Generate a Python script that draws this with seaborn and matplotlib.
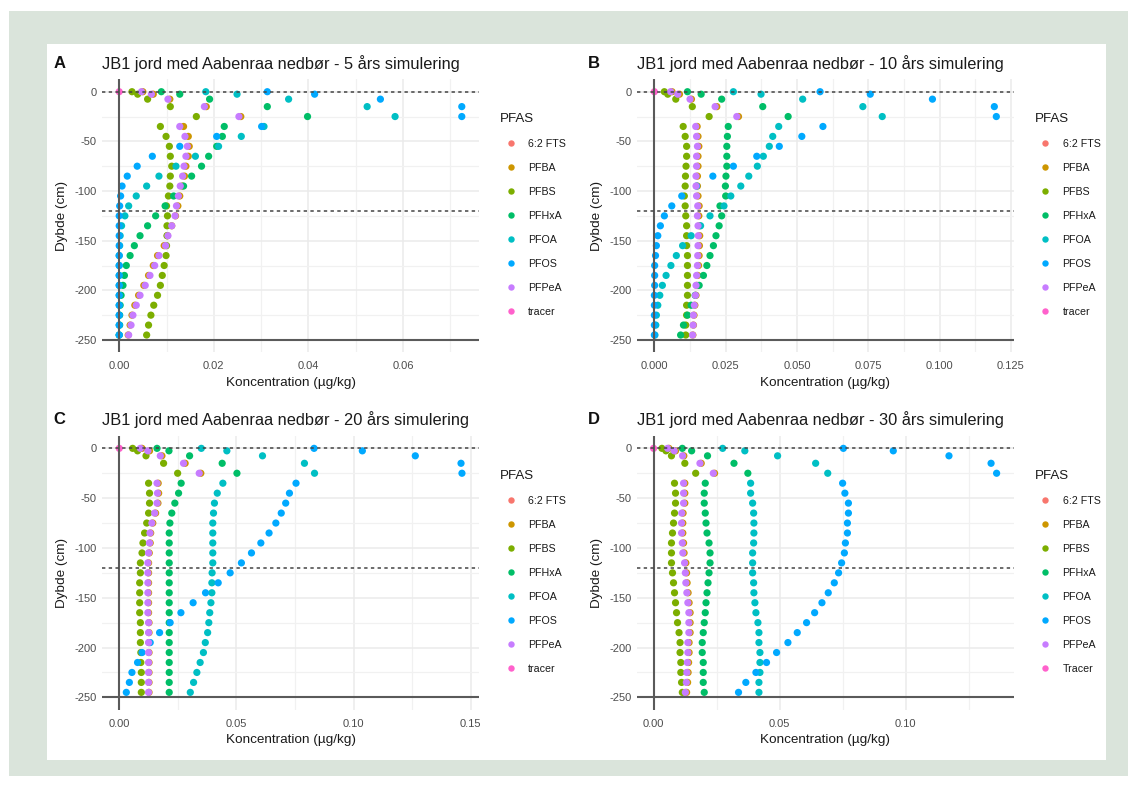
import matplotlib
matplotlib.use("Agg")
import matplotlib.pyplot as plt
from matplotlib.patches import Rectangle
from matplotlib.lines import Line2D
import seaborn as sns
import pandas as pd

# ---------------- data ----------------
DEPTHS = [0, -2.5, -7.5, -15, -25, -35, -45, -55, -65, -75, -85, -95, -105, -115,
          -125, -135, -145, -155, -165, -175, -185, -195, -205, -215, -225, -235, -245]
SPECIES = ["6:2 FTS", "PFBA", "PFBS", "PFHxA", "PFOA", "PFOS", "PFPeA", "tracer"]
COLORS = ["#F8766D", "#CD9600", "#7CAE00", "#00BE67", "#00BFC4", "#00A9FF", "#C77CFF", "#FF61CC"]

TITLES = ["JB1 jord med Aabenraa nedbør - 5 års simulering",
          "JB1 jord med Aabenraa nedbør - 10 års simulering",
          "JB1 jord med Aabenraa nedbør - 20 års simulering",
          "JB1 jord med Aabenraa nedbør - 30 års simulering"]
TAGS = ["A", "B", "C", "D"]
LEGEND_LABELS_ABC = ["6:2 FTS", "PFBA", "PFBS", "PFHxA", "PFOA", "PFOS", "PFPeA", "tracer"]
LEGEND_LABELS_D = ["6:2 FTS", "PFBA", "PFBS", "PFHxA", "PFOA", "PFOS", "PFPeA", "Tracer"]

# tracer: only the surface point is visible
TRACER_DEPTH = [0]
TRACER = [0.0]

# Panel A - 5 years
A_PFBA = [0.0050, 0.0072, 0.0107, 0.0184, 0.0257, 0.0136, 0.0146, 0.0148, 0.0146, 0.0141, 0.0138, 0.0133, 0.0128, 0.0124,
          0.0119, 0.0111, 0.0102, 0.0095, 0.0081, 0.0072, 0.0062, 0.0052, 0.0041, 0.0033, 0.0027, 0.0023, 0.0019]
A_PFBS = [0.0027, 0.0039, 0.0060, 0.0108, 0.0163, 0.0087, 0.0099, 0.0106, 0.0108, 0.0111, 0.0108, 0.0107, 0.0104, 0.0100,
          0.0102, 0.0101, 0.0101, 0.0100, 0.0099, 0.0095, 0.0091, 0.0087, 0.0081, 0.0073, 0.0067, 0.0062, 0.0058]
A_PFHxA = [0.0089, 0.0128, 0.0191, 0.0313, 0.0398, 0.0222, 0.0218, 0.0206, 0.0189, 0.0174, 0.0153, 0.0136, 0.0115, 0.0097,
           0.0077, 0.0060, 0.0044, 0.0032, 0.0023, 0.0015, 0.0011, 0.0008, 0.0004, 0.0002, 0.0001, 0.0001, 0.0000]
A_PFOA = [0.0183, 0.0249, 0.0358, 0.0524, 0.0583, 0.0306, 0.0258, 0.0210, 0.0161, 0.0120, 0.0084, 0.0058, 0.0036, 0.0020,
          0.0012, 0.0005, 0.0002, 0.0001, 0.0, 0.0, 0.0, 0.0, 0.0, 0.0, 0.0, 0.0, 0.0]
A_PFOS = [0.0313, 0.0413, 0.0552, 0.0724, 0.0724, 0.0301, 0.0206, 0.0128, 0.0070, 0.0038, 0.0017, 0.0006, 0.0003, 0.0001,
          0.0, 0.0, 0.0, 0.0, 0.0, 0.0, 0.0, 0.0, 0.0, 0.0, 0.0, 0.0, 0.0]
A_PFPeA = [0.0047, 0.0068, 0.0103, 0.0180, 0.0253, 0.0128, 0.0139, 0.0144, 0.0141, 0.0137, 0.0134, 0.0129, 0.0125, 0.0121,
           0.0118, 0.0111, 0.0103, 0.0098, 0.0084, 0.0075, 0.0065, 0.0055, 0.0044, 0.0036, 0.0029, 0.0025, 0.0020]

# Panel B - 10 years
B_PFBA = [0.0062, 0.0088, 0.0130, 0.0219, 0.0295, 0.0150, 0.0153, 0.0156, 0.0153, 0.0153, 0.0151, 0.0151, 0.0153, 0.0157,
          0.0156, 0.0158, 0.0159, 0.0158, 0.0157, 0.0155, 0.0152, 0.0149, 0.0146, 0.0142, 0.0139, 0.0137, 0.0135]
B_PFBS = [0.0035, 0.0047, 0.0075, 0.0133, 0.0192, 0.0101, 0.0108, 0.0113, 0.0113, 0.0111, 0.0109, 0.0108, 0.0105, 0.0108,
          0.0110, 0.0113, 0.0113, 0.0113, 0.0116, 0.0116, 0.0116, 0.0116, 0.0116, 0.0113, 0.0113, 0.0110, 0.0110]
B_PFHxA = [0.0116, 0.0164, 0.0236, 0.0380, 0.0469, 0.0259, 0.0256, 0.0254, 0.0254, 0.0254, 0.0251, 0.0249, 0.0250, 0.0230,
           0.0236, 0.0227, 0.0216, 0.0207, 0.0195, 0.0184, 0.0172, 0.0157, 0.0143, 0.0129, 0.0116, 0.0102, 0.0092]
B_PFOA = [0.0277, 0.0374, 0.0520, 0.0731, 0.0799, 0.0436, 0.0415, 0.0403, 0.0382, 0.0361, 0.0331, 0.0303, 0.0268, 0.0244,
          0.0195, 0.0162, 0.0129, 0.0099, 0.0077, 0.0058, 0.0041, 0.0028, 0.0019, 0.0012, 0.0007, 0.0005, 0.0002]
B_PFOS = [0.0581, 0.0757, 0.0975, 0.1192, 0.1199, 0.0591, 0.0517, 0.0438, 0.0359, 0.0277, 0.0205, 0.0148, 0.0096, 0.0061,
          0.0035, 0.0021, 0.0012, 0.0007, 0.0004, 0.0001, 0.0001, 0.0001, 0.0, 0.0, 0.0, 0.0, 0.0]
B_PFPeA = [0.0057, 0.0082, 0.0125, 0.0213, 0.0289, 0.0145, 0.0148, 0.0151, 0.0148, 0.0148, 0.0146, 0.0146, 0.0148, 0.0152,
           0.0151, 0.0153, 0.0154, 0.0153, 0.0152, 0.0151, 0.0148, 0.0146, 0.0144, 0.0140, 0.0137, 0.0136, 0.0134]

# Panel C - 20 years
C_PFBA = [0.0097, 0.0129, 0.0182, 0.0281, 0.0348, 0.0166, 0.0168, 0.0165, 0.0155, 0.0143, 0.0134, 0.0132, 0.0128, 0.0125,
          0.0125, 0.0125, 0.0125, 0.0125, 0.0125, 0.0127, 0.0127, 0.0127, 0.0127, 0.0127, 0.0127, 0.0127, 0.0127]
C_PFBS = [0.0057, 0.0078, 0.0114, 0.0189, 0.0249, 0.0125, 0.0129, 0.0129, 0.0125, 0.0117, 0.0108, 0.0101, 0.0097, 0.0090,
          0.0090, 0.0087, 0.0087, 0.0087, 0.0087, 0.0090, 0.0090, 0.0090, 0.0092, 0.0092, 0.0094, 0.0094, 0.0094]
C_PFHxA = [0.0161, 0.0212, 0.0300, 0.0439, 0.0502, 0.0264, 0.0253, 0.0237, 0.0224, 0.0216, 0.0213, 0.0213, 0.0213, 0.0213,
           0.0213, 0.0213, 0.0213, 0.0213, 0.0213, 0.0213, 0.0213, 0.0213, 0.0213, 0.0213, 0.0213, 0.0213, 0.0213]
C_PFOA = [0.0350, 0.0459, 0.0611, 0.0790, 0.0833, 0.0442, 0.0418, 0.0406, 0.0402, 0.0399, 0.0399, 0.0399, 0.0399, 0.0399,
          0.0396, 0.0395, 0.0395, 0.0391, 0.0386, 0.0382, 0.0377, 0.0367, 0.0359, 0.0345, 0.0331, 0.0317, 0.0303]
C_PFOS = [0.0831, 0.1037, 0.1263, 0.1458, 0.1462, 0.0754, 0.0726, 0.0710, 0.0691, 0.0668, 0.0639, 0.0604, 0.0564, 0.0521,
          0.0473, 0.0422, 0.0368, 0.0315, 0.0263, 0.0217, 0.0172, 0.0132, 0.0097, 0.0078, 0.0054, 0.0043, 0.0030]
C_PFPeA = [0.0090, 0.0122, 0.0175, 0.0274, 0.0341, 0.0161, 0.0163, 0.0161, 0.0151, 0.0139, 0.0131, 0.0129, 0.0125, 0.0122,
           0.0122, 0.0122, 0.0122, 0.0122, 0.0122, 0.0125, 0.0125, 0.0125, 0.0125, 0.0125, 0.0125, 0.0125, 0.0125]

# Panel D - 30 years
D_PFBA = [0.0061, 0.0087, 0.0120, 0.0189, 0.0242, 0.0124, 0.0124, 0.0124, 0.0117, 0.0116, 0.0116, 0.0119, 0.0121, 0.0128,
          0.0131, 0.0133, 0.0137, 0.0141, 0.0145, 0.0145, 0.0145, 0.0141, 0.0141, 0.0139, 0.0137, 0.0135, 0.0131]
D_PFBS = [0.0033, 0.0049, 0.0071, 0.0124, 0.0167, 0.0083, 0.0087, 0.0087, 0.0083, 0.0079, 0.0075, 0.0071, 0.0071, 0.0071,
          0.0075, 0.0079, 0.0083, 0.0087, 0.0091, 0.0095, 0.0101, 0.0105, 0.0105, 0.0108, 0.0108, 0.0111, 0.0114]
D_PFHxA = [0.0114, 0.0151, 0.0214, 0.0319, 0.0374, 0.0205, 0.0201, 0.0201, 0.0205, 0.0208, 0.0212, 0.0220, 0.0224, 0.0224,
           0.0220, 0.0216, 0.0212, 0.0208, 0.0205, 0.0201, 0.0197, 0.0193, 0.0193, 0.0197, 0.0197, 0.0197, 0.0201]
D_PFOA = [0.0274, 0.0362, 0.0492, 0.0643, 0.0691, 0.0385, 0.0385, 0.0393, 0.0397, 0.0398, 0.0398, 0.0397, 0.0393, 0.0393,
          0.0393, 0.0397, 0.0398, 0.0402, 0.0406, 0.0414, 0.0418, 0.0418, 0.0422, 0.0422, 0.0422, 0.0418, 0.0418]
D_PFOS = [0.0753, 0.0951, 0.1172, 0.1339, 0.1361, 0.0750, 0.0759, 0.0773, 0.0773, 0.0769, 0.0769, 0.0761, 0.0757, 0.0746,
          0.0734, 0.0717, 0.0693, 0.0668, 0.0639, 0.0607, 0.0570, 0.0533, 0.0488, 0.0448, 0.0406, 0.0366, 0.0337]
D_PFPeA = [0.0056, 0.0082, 0.0115, 0.0184, 0.0237, 0.0119, 0.0119, 0.0119, 0.0112, 0.0111, 0.0111, 0.0114, 0.0116, 0.0123,
           0.0126, 0.0128, 0.0132, 0.0136, 0.0140, 0.0140, 0.0140, 0.0136, 0.0136, 0.0134, 0.0132, 0.0130, 0.0126]

X_TICKS_A = [0.0, 0.02, 0.04, 0.06]
X_TICKS_B = [0.0, 0.025, 0.05, 0.075, 0.1, 0.125]
X_TICKS_C = [0.0, 0.05, 0.10, 0.15]
X_TICKS_D = [0.0, 0.05, 0.10]
X_LABELS_A = ["0.00", "0.02", "0.04", "0.06"]
X_LABELS_B = ["0.000", "0.025", "0.050", "0.075", "0.100", "0.125"]
X_LABELS_C = ["0.00", "0.05", "0.10", "0.15"]
X_LABELS_D = ["0.00", "0.05", "0.10"]
Y_TICKS = [0, -50, -100, -150, -200, -250]
Y_LABELS = ["0", "-50", "-100", "-150", "-200", "-250"]


def build_frame(pfba, pfbs, pfhxa, pfoa, pfos, pfpea):
    series = [("PFBA", pfba), ("PFBS", pfbs), ("PFHxA", pfhxa),
              ("PFOA", pfoa), ("PFOS", pfos), ("PFPeA", pfpea)]
    rows = []
    for name, vals in series:
        for d, v in zip(DEPTHS, vals):
            rows.append((name, v, d))
    for d, v in zip(TRACER_DEPTH, TRACER):
        rows.append(("tracer", v, d))
    return pd.DataFrame(rows, columns=["PFAS", "conc", "depth"])


panels = [
    dict(df=build_frame(A_PFBA, A_PFBS, A_PFHxA, A_PFOA, A_PFOS, A_PFPeA),
         xt=X_TICKS_A, xl=X_LABELS_A, xlim=(-0.0037, 0.0761), leg=LEGEND_LABELS_ABC),
    dict(df=build_frame(B_PFBA, B_PFBS, B_PFHxA, B_PFOA, B_PFOS, B_PFPeA),
         xt=X_TICKS_B, xl=X_LABELS_B, xlim=(-0.0062, 0.1261), leg=LEGEND_LABELS_ABC),
    dict(df=build_frame(C_PFBA, C_PFBS, C_PFHxA, C_PFOA, C_PFOS, C_PFPeA),
         xt=X_TICKS_C, xl=X_LABELS_C, xlim=(-0.0075, 0.1536), leg=LEGEND_LABELS_ABC),
    dict(df=build_frame(D_PFBA, D_PFBS, D_PFHxA, D_PFOA, D_PFOS, D_PFPeA),
         xt=X_TICKS_D, xl=X_LABELS_D, xlim=(-0.0067, 0.1430), leg=LEGEND_LABELS_D),
]

# ---------------- style ----------------
sns.set_theme(style="white")
plt.rcParams["font.family"] = ["Liberation Sans", "DejaVu Sans"]
plt.rcParams["axes.unicode_minus"] = False

W, H = 1128, 787
fig = plt.figure(figsize=(W / 100, H / 100), dpi=100)
fig.patch.set_facecolor("white")


def fx(px):
    return px / W


def fy(py):
    return 1 - py / H


# frame
fig.patches.append(Rectangle((fx(9), fy(776)), fx(1128) - fx(9), (776 - 11) / H,
                             transform=fig.transFigure, facecolor="#dae4db",
                             edgecolor="none", zorder=-10))
fig.patches.append(Rectangle((fx(47), fy(760)), fx(1106) - fx(47), (760 - 44) / H,
                             transform=fig.transFigure, facecolor="white",
                             edgecolor="none", zorder=-9))

palette = dict(zip(SPECIES, COLORS))

# axes geometry in px: (left, right, top, bottom)
geoms = [(101.7, 479.3, 79.3, 352.4), (636.7, 1014.0, 79.3, 352.4),
         (101.7, 479.3, 435.9, 709.8), (636.7, 1014.0, 435.9, 709.8)]

for i, (p, g) in enumerate(zip(panels, geoms)):
    l, r, t, b = g
    ax = fig.add_axes([fx(l), fy(b), (r - l) / W, (b - t) / H])
    ax.set_facecolor("white")
    sns.scatterplot(data=p["df"], x="conc", y="depth", hue="PFAS", hue_order=SPECIES,
                    palette=palette, s=27, linewidth=0, ax=ax, legend=False, zorder=2)
    ax.set_xlim(*p["xlim"])
    ax.set_ylim(-262.5, 12.5)

    # grid lines: majors at ticks, minors halfway between
    majors = p["xt"]
    step = majors[1] - majors[0]
    minor_x = []
    k = step / 2
    while k < p["xlim"][1]:
        minor_x.append(k)
        k += step
    ax.set_xticks(majors)
    ax.set_xticks(minor_x, minor=True)
    ax.set_xticklabels(p["xl"])
    ax.set_yticks(Y_TICKS)
    ax.set_yticks([-25, -75, -125, -175, -225], minor=True)
    ax.set_yticklabels(Y_LABELS)
    ax.grid(which="major", color="#ebebeb", lw=1.1, zorder=0)
    ax.grid(which="minor", color="#f1f1f1", lw=0.9, zorder=0)
    ax.set_axisbelow(True)
    for s in ax.spines.values():
        s.set_visible(False)
    ax.tick_params(axis="both", which="both", length=0, labelsize=8, labelcolor="#4d4d4d")
    ax.tick_params(axis="x", pad=6.5)
    ax.tick_params(axis="y", pad=3.6)

    # reference lines
    ax.axvline(0, color="#5a5a5a", lw=1.5, zorder=3)
    ax.axhline(-250, color="#5a5a5a", lw=1.5, zorder=3)
    ax.axhline(0, color="#444444", lw=1.1, ls=(0, (2.2, 2.2)), zorder=3)
    ax.axhline(-120, color="#444444", lw=1.1, ls=(0, (2.2, 2.2)), zorder=3)

    ax.set_xlabel("Koncentration (µg/kg)", fontsize=9.7, color="#1a1a1a", labelpad=4)
    ax.set_ylabel("Dybde (cm)", fontsize=9.7, color="#1a1a1a", labelpad=5)

    # title and tag
    ty = 63.3 if i < 2 else 420.0
    fig.text(fx(l), fy(ty), TITLES[i], fontsize=11.8, color="#1a1a1a", ha="left", va="center")
    fig.text(fx(l - 48.5), fy(ty), TAGS[i], fontsize=12, fontweight="bold",
             color="#111111", ha="left", va="center")

    # legend
    handles = [Line2D([], [], marker="o", linestyle="", markersize=4.6,
                      markerfacecolor=c, markeredgewidth=0) for c in COLORS]
    ly = 112.9 if i < 2 else 469.5
    leg = ax.legend(handles, p["leg"], title="PFAS", loc="upper left",
                    bbox_to_anchor=(fx(r + 20.7), fy(ly)), bbox_transform=fig.transFigure,
                    frameon=False, borderpad=0, handlelength=2.0, handletextpad=0.6,
                    labelspacing=1.31, fontsize=7.7, title_fontsize=9.6, borderaxespad=0)
    leg._legend_box.align = "left"
    for txt in leg.get_texts():
        txt.set_color("#1a1a1a")
    leg.get_title().set_color("#1a1a1a")

fig.savefig("out.png", dpi=100, facecolor=fig.get_facecolor())
